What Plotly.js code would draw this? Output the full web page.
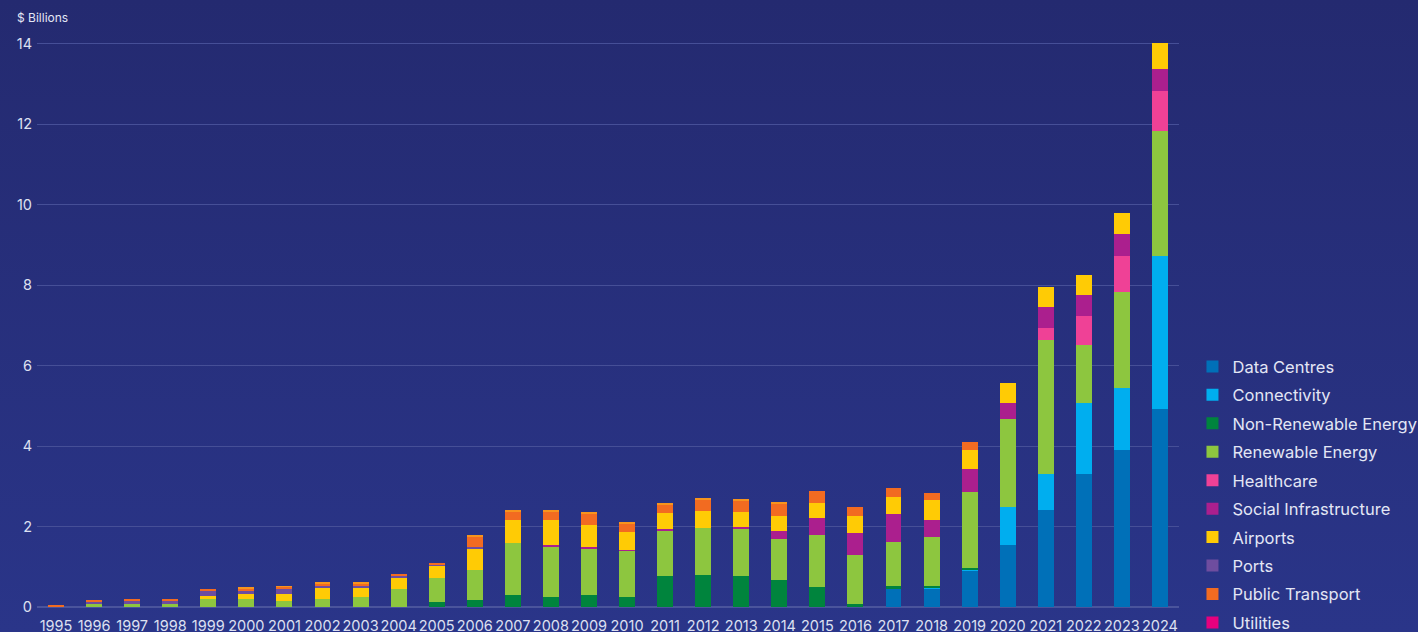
<!DOCTYPE html>
<html>
<head>
<meta charset="utf-8">
<script src="https://cdn.plot.ly/plotly-3.0.1.min.js"></script>
<style>
html, body { margin:0; padding:0; }
body { width:1418px; height:632px; overflow:hidden; background: linear-gradient(180deg, #242a70 0%, #2a3589 100%); }
#chart { width:1418px; height:632px; }
</style>
</head>
<body>
<div id="chart"></div>
<script>
const years = ["1995","1996","1997","1998","1999","2000","2001","2002","2003","2004","2005","2006","2007","2008","2009","2010","2011","2012","2013","2014","2015","2016","2017","2018","2019","2020","2021","2022","2023","2024"];

const dataCentres        = [0,0,0,0,0,0,0,0,0,0,0,0,0,0,0,0,0,0,0,0,0,0,0.45,0.45,0.89,1.54,2.41,3.30,3.89,4.91];
const connectivity       = [0,0,0,0,0,0,0,0,0,0,0,0,0,0,0,0,0,0,0,0,0,0,0,0.02,0.02,0.94,0.89,1.76,1.54,3.82];
const nonRenewable       = [0,0,0,0,0,0,0,0,0,0,0.13,0.17,0.31,0.26,0.31,0.26,0.76,0.79,0.76,0.66,0.49,0.07,0.07,0.05,0.07,0,0,0,0,0];
const renewable          = [0,0.08,0.08,0.08,0.21,0.21,0.16,0.21,0.26,0.45,0.60,0.74,1.29,1.22,1.12,1.14,1.12,1.17,1.19,1.02,1.29,1.22,1.09,1.22,1.89,2.18,3.33,1.44,2.41,3.10];
const healthcare         = [0,0,0,0,0,0,0,0,0,0,0,0,0,0,0,0,0,0,0,0,0,0,0,0,0,0,0.30,0.74,0.89,0.99];
const socialInfra        = [0,0,0,0,0,0,0,0,0,0,0,0,0,0.07,0.05,0.02,0.05,0,0.05,0.20,0.44,0.55,0.71,0.42,0.55,0.40,0.52,0.52,0.53,0.55];
const airports           = [0,0,0,0,0.07,0.12,0.17,0.25,0.22,0.27,0.30,0.52,0.55,0.60,0.57,0.45,0.40,0.42,0.37,0.37,0.37,0.42,0.41,0.50,0.47,0.50,0.50,0.50,0.54,0.65];
const ports              = [0,0.05,0.07,0.07,0.12,0.07,0.12,0.07,0.05,0.04,0.02,0.05,0,0,0,0,0,0,0,0,0,0,0,0,0,0,0,0,0,0];
const publicTransport    = [0.06,0.05,0.05,0.05,0.05,0.05,0.05,0.05,0.05,0.05,0.05,0.25,0.22,0.22,0.27,0.20,0.20,0.27,0.27,0.32,0.30,0.22,0.22,0.17,0.22,0,0,0,0,0];
const utilities          = [0,0,0,0,0,0,0,0,0,0,0,0,0,0,0,0,0,0,0,0,0,0,0,0,0,0,0,0,0,0];
const other              = [0,0,0,0,0,0.05,0.02,0.05,0.05,0,0,0.05,0.05,0.05,0.05,0.05,0.05,0.05,0.05,0.05,0,0,0,0,0,0,0,0,0,0];

const seriesNames  = ["Data Centres","Connectivity","Non-Renewable Energy","Renewable Energy","Healthcare","Social Infrastructure","Airports","Ports","Public Transport","Utilities","Other"];
const seriesValues = [dataCentres, connectivity, nonRenewable, renewable, healthcare, socialInfra, airports, ports, publicTransport, utilities, other];
const seriesColors = ["#0070b8","#00aeef","#00843d","#8dc63f","#ef4196","#ab1f8e","#ffcb05","#6e4d9f","#f26b21","#e6007e","#f7941d"];
const inLegend     = [true,true,true,true,true,true,true,true,true,true,false];

const traces = seriesNames.map((n, i) => ({
  type: "bar",
  name: n,
  x: years,
  y: seriesValues[i],
  marker: { color: seriesColors[i], line: { width: 0 } },
  legendgroup: "g" + i,
  showlegend: inLegend[i],
  hoverinfo: "x+y+name"
}));

const layout = {
  width: 1418,
  height: 632,
  margin: { l: 37, r: 239, t: 42, b: 25, autoexpand: false },
  paper_bgcolor: "rgba(0,0,0,0)",
  plot_bgcolor: "rgba(0,0,0,0)",
  barmode: "stack",
  bargap: 0.58,
  font: { family: "Inter, 'Open Sans', sans-serif", color: "#dde0f1" },
  xaxis: {
    type: "category",
    showgrid: false,
    zeroline: false,
    showline: false,
    ticks: "",
    tickangle: 0,
    ticklabelstandoff: 8,
    tickfont: { size: 14.5, color: "#dde0f1" },
    automargin: false
  },
  yaxis: {
    range: [0, 14.04],
    dtick: 2,
    showgrid: true,
    gridcolor: "#464f97",
    gridwidth: 1,
    zeroline: true,
    zerolinecolor: "#4a549c",
    zerolinewidth: 2,
    showline: false,
    ticks: "",
    ticklabelstandoff: 4,
    tickfont: { size: 14.5, color: "#dde0f1" },
    automargin: false
  },
  legend: {
    x: 1.0118,
    xanchor: "left",
    y: 0.4563,
    yanchor: "top",
    traceorder: "grouped",
    tracegroupgap: 4,
    font: { size: 16.5, color: "#e3e6f5", family: "Inter, 'Open Sans', sans-serif" },
    bgcolor: "rgba(0,0,0,0)"
  },
  showlegend: true,
  annotations: [{
    text: "$ Billions",
    xref: "paper", yref: "paper",
    x: -0.0193, y: 1.0425,
    xanchor: "left", yanchor: "middle",
    showarrow: false,
    font: { size: 12, color: "#e3e6f5" }
  }]
};

Plotly.newPlot("chart", traces, layout, { displayModeBar: false, staticPlot: true });
</script>
</body>
</html>
